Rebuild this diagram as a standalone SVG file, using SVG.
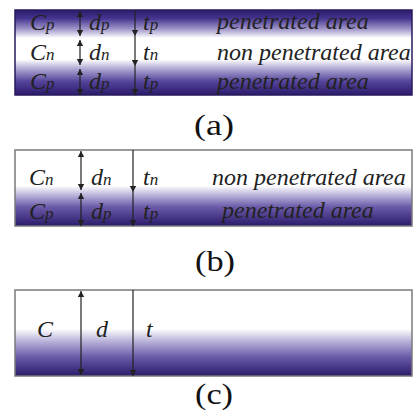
<svg xmlns="http://www.w3.org/2000/svg" width="413" height="419" viewBox="0 0 413 419">
<style>
.lbl{font-family:"Liberation Serif","Times New Roman",serif;font-style:italic;font-size:24px;fill:#222}
.cap{font-family:"Liberation Serif","Times New Roman",serif;font-size:29px;fill:#111;text-anchor:middle}
.arr{stroke:#222;stroke-width:1.2;fill:none}
.frameA{stroke:#2a1a5c;stroke-width:1.5}
.frame{stroke:#7a7a7a;stroke-width:1.5}
</style>
<defs>
<linearGradient id="gA" x1="0" y1="0" x2="0" y2="1">
<stop offset="0" stop-color="#2c1a6a"/>
<stop offset="0.1" stop-color="#463590"/>
<stop offset="0.22" stop-color="#9d93c8"/>
<stop offset="0.33" stop-color="#ffffff"/>
<stop offset="0.58" stop-color="#ffffff"/>
<stop offset="0.7" stop-color="#aaa2d0"/>
<stop offset="0.84" stop-color="#54449a"/>
<stop offset="1" stop-color="#2c1a6a"/>
</linearGradient>
<linearGradient id="gB" x1="0" y1="0" x2="0" y2="1">
<stop offset="0" stop-color="#ffffff"/>
<stop offset="0.47" stop-color="#ffffff"/>
<stop offset="0.6" stop-color="#b7b0d8"/>
<stop offset="0.75" stop-color="#6a5aa8"/>
<stop offset="1" stop-color="#2c1a6a"/>
</linearGradient>
<linearGradient id="gC" x1="0" y1="0" x2="0" y2="1">
<stop offset="0" stop-color="#ffffff"/>
<stop offset="0.45" stop-color="#ffffff"/>
<stop offset="0.6" stop-color="#b7b0d8"/>
<stop offset="0.78" stop-color="#6a5aa8"/>
<stop offset="1" stop-color="#2c1a6a"/>
</linearGradient>
<marker id="ah" viewBox="0 0 6 8" refX="6" refY="4" markerWidth="6" markerHeight="8" markerUnits="userSpaceOnUse" orient="auto-start-reverse">
<path d="M0,0.8 L6,4 L0,7.2 z" fill="#222"/>
</marker>
</defs>

<g id="panel-a">
<rect x="15" y="10" width="397" height="85" fill="url(#gA)" class="frameA"/>
<text class="lbl" x="30" y="30">C<tspan font-size="17" dy="0">p</tspan></text>
<text class="lbl" x="30" y="60" fill="#444">C<tspan font-size="17">n</tspan></text>
<text class="lbl" x="30" y="89">C<tspan font-size="17">p</tspan></text>
<text class="lbl" x="89" y="30">d<tspan font-size="17">p</tspan></text>
<text class="lbl" x="89" y="60">d<tspan font-size="17">n</tspan></text>
<text class="lbl" x="89" y="89">d<tspan font-size="17">p</tspan></text>
<text class="lbl" x="143" y="30">t<tspan font-size="17">p</tspan></text>
<text class="lbl" x="143" y="60">t<tspan font-size="17">n</tspan></text>
<text class="lbl" x="143" y="89">t<tspan font-size="17">p</tspan></text>
<text class="lbl" x="217" y="29">penetrated area</text>
<text class="lbl" x="217" y="60">non penetrated area</text>
<text class="lbl" x="217" y="89">penetrated area</text>
</g>

<g id="panel-b">
<rect x="15" y="150" width="397" height="76" fill="url(#gB)" class="frame"/>
<text class="lbl" x="29" y="185">C<tspan font-size="17">n</tspan></text>
<text class="lbl" x="29" y="219">C<tspan font-size="17">p</tspan></text>
<text class="lbl" x="91" y="185">d<tspan font-size="17">n</tspan></text>
<text class="lbl" x="91" y="219">d<tspan font-size="17">p</tspan></text>
<text class="lbl" x="143" y="185">t<tspan font-size="17">n</tspan></text>
<text class="lbl" x="143" y="219">t<tspan font-size="17">p</tspan></text>
<text class="lbl" x="212" y="185">non penetrated area</text>
<text class="lbl" x="222" y="218">penetrated area</text>
</g>

<g id="panel-c">
<rect x="15" y="290" width="397" height="86" fill="url(#gC)" class="frame"/>
<text class="lbl" x="37" y="337">C</text>
<text class="lbl" x="96" y="337">d</text>
<text class="lbl" x="146" y="337">t</text>
</g>

<g id="captions">
<text class="cap" x="214" y="135" textLength="40" lengthAdjust="spacingAndGlyphs">(a)</text>
<text class="cap" x="215" y="271" textLength="40" lengthAdjust="spacingAndGlyphs">(b)</text>
<text class="cap" x="214" y="404" textLength="38" lengthAdjust="spacingAndGlyphs">(c)</text>
</g>

<g id="connectors">
<line class="arr" x1="80" y1="11" x2="80" y2="36" marker-start="url(#ah)" marker-end="url(#ah)"/>
<line class="arr" x1="80" y1="40" x2="80" y2="65" marker-start="url(#ah)" marker-end="url(#ah)"/>
<line class="arr" x1="80" y1="69" x2="80" y2="95" marker-start="url(#ah)" marker-end="url(#ah)"/>
<line class="arr" x1="135" y1="10" x2="135" y2="36" marker-end="url(#ah)"/>
<line class="arr" x1="135" y1="36" x2="135" y2="66" marker-end="url(#ah)"/>
<line class="arr" x1="135" y1="66" x2="135" y2="95" marker-end="url(#ah)"/>

<line class="arr" x1="81" y1="151" x2="81" y2="190" marker-start="url(#ah)" marker-end="url(#ah)"/>
<line class="arr" x1="81" y1="193" x2="81" y2="226" marker-start="url(#ah)" marker-end="url(#ah)"/>
<line class="arr" x1="133" y1="150" x2="133" y2="192" marker-end="url(#ah)"/>
<line class="arr" x1="133" y1="192" x2="133" y2="226" marker-end="url(#ah)"/>

<line class="arr" x1="81" y1="291" x2="81" y2="375" marker-start="url(#ah)" marker-end="url(#ah)"/>
<line class="arr" x1="133" y1="290" x2="133" y2="376" marker-end="url(#ah)"/>
</g>
</svg>
